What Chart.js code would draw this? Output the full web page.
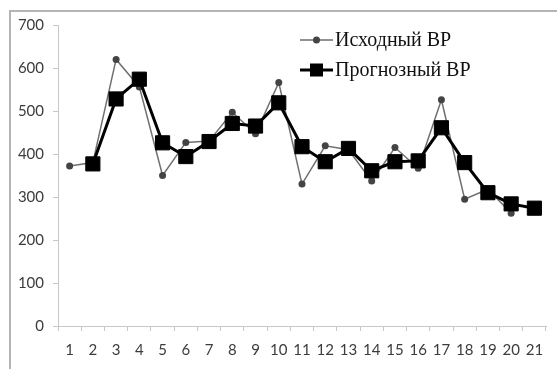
<!DOCTYPE html>
<html>
<head>
<meta charset="utf-8">
<script src="https://cdn.jsdelivr.net/npm/chart.js@4.4.0/dist/chart.umd.min.js"></script>
<style>
  html, body { margin: 0; padding: 0; background: #fff; }
  #wrap { width: 557px; height: 369px; position: relative; }
</style>
</head>
<body>
<div id="wrap"><canvas id="c"></canvas></div>
<script>
// x categories
const labels = ['1','2','3','4','5','6','7','8','9','10','11','12','13','14','15','16','17','18','19','20','21'];
// source time series (thin gray line, circles)
const sourceValues = [372, 380, 620, 556, 350, 427, 430, 497, 447, 566, 330, 419, 410, 337, 415, 367, 526, 295, 318, 262, null];
// forecast time series (thick black line, squares)
const forecastValues = [null, 377, 528, 574, 426, 394, 429, 471, 465, 519, 417, 382, 413, 361, 382, 384, 461, 380, 310, 284, 274];
const yTicks = [0, 100, 200, 300, 400, 500, 600, 700];

const sourceName = 'Исходный ВР';
const forecastName = 'Прогнозный ВР';

// frame round the picture + hand drawn legend (line with marker)
const framePlugin = {
  id: 'frame',
  beforeDraw(chart) {
    const ctx = chart.ctx;
    ctx.save();
    ctx.strokeStyle = '#b4b4b4';
    ctx.lineWidth = 2;
    ctx.beginPath();
    ctx.moveTo(10, 369);
    ctx.lineTo(10, 11);
    ctx.lineTo(557, 11);
    ctx.stroke();
    ctx.restore();
  },
  afterDraw(chart) {
    const ctx = chart.ctx;
    ctx.save();
    ctx.font = '20px "Liberation Serif"';
    ctx.textBaseline = 'middle';

    // row 1
    ctx.strokeStyle = '#6e6e6e';
    ctx.lineWidth = 1.5;
    ctx.beginPath();
    ctx.moveTo(300, 40);
    ctx.lineTo(333, 40);
    ctx.stroke();
    ctx.fillStyle = '#444';
    ctx.beginPath();
    ctx.arc(316.5, 40, 3.5, 0, Math.PI * 2);
    ctx.fill();
    ctx.fillStyle = '#111';
    ctx.fillText(sourceName, 335, 41);

    // row 2
    ctx.strokeStyle = '#000';
    ctx.lineWidth = 3;
    ctx.beginPath();
    ctx.moveTo(300, 70);
    ctx.lineTo(333, 70);
    ctx.stroke();
    ctx.fillStyle = '#000';
    ctx.fillRect(310, 63.5, 13, 13);
    ctx.fillStyle = '#111';
    ctx.fillText(forecastName, 335, 71);
    ctx.restore();
  }
};

new Chart(document.getElementById('c'), {
  type: 'line',
  data: {
    labels: labels,
    datasets: [
      {
        label: forecastName,
        data: forecastValues,
        order: 1,
        borderColor: '#000',
        backgroundColor: '#000',
        borderWidth: 3,
        pointStyle: 'rect',
        pointRadius: 10,
        pointBorderWidth: 1,
        pointBorderColor: '#000',
        pointBackgroundColor: '#000',
        tension: 0
      },
      {
        label: sourceName,
        data: sourceValues,
        order: 2,
        borderColor: '#707070',
        backgroundColor: '#444',
        borderWidth: 1.5,
        pointStyle: 'circle',
        pointRadius: 3.5,
        pointBorderWidth: 0,
        pointBackgroundColor: '#444',
        tension: 0
      }
    ]
  },
  plugins: [framePlugin],
  options: {
    responsive: true,
    maintainAspectRatio: false,
    animation: false,
    layout: { padding: { top: 25, right: 3, left: 0, bottom: 0 } },
    plugins: {
      legend: { display: false },
      tooltip: { enabled: false }
    },
    scales: {
      x: {
        offset: true,
        grid: {
          offset: true,
          drawOnChartArea: false,
          tickLength: 5,
          color: '#c8c8c8'
        },
        border: { color: '#c8c8c8' },
        ticks: {
          color: '#3c3c3c',
          font: { family: 'Lato', size: 15 },
          padding: 10,
          maxRotation: 0,
          autoSkip: false
        },
        afterFit(scale) { scale.height = 43; }
      },
      y: {
        min: 0,
        max: 700,
        afterBuildTicks(scale) { scale.ticks = yTicks.map(v => ({ value: v })); },
        grid: {
          drawOnChartArea: false,
          tickLength: 5,
          color: '#c8c8c8'
        },
        border: { color: '#c8c8c8' },
        ticks: {
          color: '#3c3c3c',
          font: { family: 'Lato', size: 15 },
          padding: 9
        },
        afterFit(scale) { scale.width = 58; }
      }
    }
  }
});
</script>
</body>
</html>
